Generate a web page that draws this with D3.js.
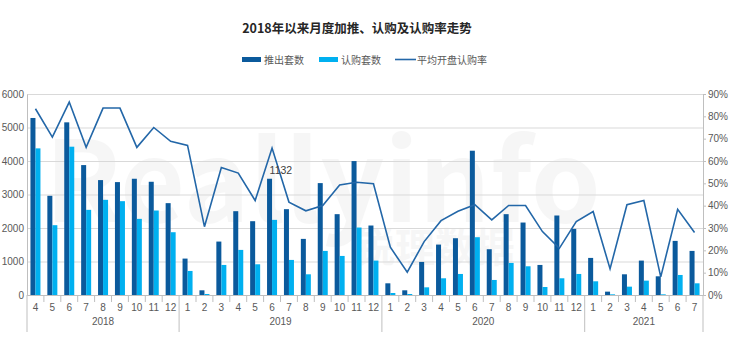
<html><head>
<meta charset="utf-8">
<script src="https://d3js.org/d3.v7.min.js"></script>
<style>
  body { margin: 0; background: #fff; }
  text { font-family: "Noto Sans CJK SC", "Open Sans", sans-serif; }
  .num { font-family: "Liberation Sans", Arial, sans-serif; }
  .grid line { stroke: #d9d9d9; }
  .grid .domain { stroke: none; }
</style>
</head>
<body>
<svg id="chart" width="740" height="351"></svg>
<script>
  // month labels, year groups
  const years = ["2018", "2019", "2020", "2021"];
  const yearMonths = [[4,5,6,7,8,9,10,11,12], [1,2,3,4,5,6,7,8,9,10,11,12], [1,2,3,4,5,6,7,8,9,10,11,12], [1,2,3,4,5,6,7]];
  // 推出套数
  const launched = [5284,2961,5154,3878,3430,3370,3470,3380,2742,
                    1087,140,1595,2502,2203,3470,2562,1675,3340,2413,3998,2074,
                    349,140,987,1505,1695,4307,1366,2413,2163,897,2373,1974,
                    1107,100,618,1027,558,1615,1316];
  // 认购套数
  const sold = [4377,2084,4427,2542,2841,2801,2273,2522,1874,
                718,30,897,1346,917,2243,1047,618,1316,1166,2014,1027,
                60,30,229,499,628,1725,449,957,857,239,499,628,
                409,20,249,429,20,598,349];
  // 平均开盘认购率 (%)
  const rate = [83.4,70.7,86.4,66.1,83.7,83.7,66.1,75.0,68.8,
                67.0,30.6,57.1,54.6,42.3,65.8,41.6,37.7,40.1,49.3,50.5,49.8,
                21.4,10.2,23.9,33.3,37.5,40.4,33.6,40.1,40.1,28.4,20.9,32.9,
                37.4,11.7,40.4,42.3,8.1,38.4,28.0];
  const leftTicks = [0,1000,2000,3000,4000,5000,6000];
  const rightTicks = [0,10,20,30,40,50,60,70,80,90];

  // build one row per month
  let data = [];
  years.forEach((y, yi) => {
    yearMonths[yi].forEach(m => {
      const i = data.length;
      data.push({key: y + "-" + m, year: y, month: m, launched: launched[i], sold: sold[i], rate: rate[i]});
    });
  });

  const svg = d3.select("svg#chart");
  const margins = {top: 94, right: 37, bottom: 56, left: 27};
  const width = 740, height = 351;
  const chartWidth = width - margins.left - margins.right;
  const chartHeight = height - margins.top - margins.bottom;

  const x = d3.scaleBand().domain(data.map(d => d.key)).range([margins.left, margins.left + chartWidth]);
  const sub = d3.scaleBand().domain(["launched", "sold"]).range([-5, 5]);
  const yLeft = d3.scaleLinear().domain([0, 6000]).range([margins.top + chartHeight, margins.top]);
  const yRight = d3.scaleLinear().domain([0, 90]).range([margins.top + chartHeight, margins.top]);

  // faint watermark
  svg.append("text")
    .attr("x", 45).attr("y", 222)
    .attr("font-size", 112).attr("font-weight", "bold")
    .attr("fill", "#000").attr("opacity", 0.03)
    .attr("font-family", "Open Sans, sans-serif")
    .text("Reallyinfo");
  svg.append("text")
    .attr("x", 355).attr("y", 262)
    .attr("font-size", 40).attr("font-weight", "bold")
    .attr("fill", "#000").attr("opacity", 0.03)
    .text("锐理数据");

  // gridlines
  svg.append("g").attr("class", "grid")
    .attr("transform", "translate(" + margins.left + ",0)")
    .call(d3.axisLeft(yLeft).tickValues(leftTicks).tickSize(-chartWidth).tickFormat(""));

  // bars
  const colors = {launched: "#0b5a9c", sold: "#00b0f0"};
  ["launched", "sold"].forEach(k => {
    svg.append("g").selectAll("rect").data(data).join("rect")
      .attr("x", d => x(d.key) + x.bandwidth() / 2 + sub(k))
      .attr("width", sub.bandwidth())
      .attr("y", d => yLeft(d[k]))
      .attr("height", d => yLeft(0) - yLeft(d[k]))
      .attr("fill", colors[k]);
  });

  // rate line
  const line = d3.line().x(d => x(d.key) + x.bandwidth() / 2).y(d => yRight(d.rate));
  svg.append("path").datum(data)
    .attr("d", line)
    .attr("fill", "none")
    .attr("stroke", "#2367a8")
    .attr("stroke-width", 1.6);

  // stray label in the original
  svg.append("text").attr("class", "num")
    .attr("x", x("2019-6") + 6).attr("y", 174)
    .attr("font-size", 10.5).attr("fill", "#404040")
    .text("1132");

  // left axis
  const left = svg.append("g").attr("transform", "translate(" + margins.left + ",0)")
    .call(d3.axisLeft(yLeft).tickValues(leftTicks).tickSize(0).tickPadding(3).tickFormat(d3.format("d")));
  left.select(".domain").attr("stroke", "#bfbfbf");
  left.selectAll("text").attr("class", "num").attr("font-size", 10).attr("fill", "#595959");

  // right axis
  const right = svg.append("g").attr("transform", "translate(" + (margins.left + chartWidth) + ",0)")
    .call(d3.axisRight(yRight).tickValues(rightTicks).tickSize(3).tickSizeOuter(0).tickPadding(2).tickFormat(d => d + "%"));
  right.select(".domain").attr("stroke", "#bfbfbf");
  right.selectAll("line").attr("stroke", "#bfbfbf");
  right.selectAll("text").attr("class", "num").attr("font-size", 10).attr("fill", "#595959");

  // bottom axis: month labels
  const base = yLeft(0);
  const bottom = svg.append("g").attr("transform", "translate(0," + base + ")")
    .call(d3.axisBottom(x).tickSize(0).tickPadding(9).tickFormat(k => k.split("-")[1]));
  bottom.select(".domain").attr("stroke", "#bfbfbf");
  bottom.selectAll("text").attr("class", "num").attr("font-size", 10).attr("fill", "#595959");

  // separators between months and years
  data.forEach((d, i) => {
    const xe = x(d.key);
    const yearStart = i == 0 || data[i - 1].year != d.year;
    svg.append("line")
      .attr("x1", xe).attr("x2", xe)
      .attr("y1", base).attr("y2", yearStart ? base + 37 : base + 7)
      .attr("stroke", "#bfbfbf");
  });
  const lastX = x(data[data.length - 1].key) + x.bandwidth();
  svg.append("line").attr("x1", lastX).attr("x2", lastX)
    .attr("y1", base).attr("y2", base + 37).attr("stroke", "#bfbfbf");

  // year labels
  years.forEach(y => {
    const ms = data.filter(d => d.year == y);
    const cx = (x(ms[0].key) + x(ms[ms.length - 1].key) + x.bandwidth()) / 2;
    svg.append("text").attr("class", "num")
      .attr("x", cx).attr("y", base + 30)
      .attr("text-anchor", "middle")
      .attr("font-size", 10).attr("fill", "#595959")
      .text(y);
  });

  // title
  svg.append("text")
    .attr("x", 357).attr("y", 33)
    .attr("text-anchor", "middle")
    .attr("font-size", 12.5).attr("font-weight", "bold").attr("fill", "#262626")
    .text("2018年以来月度加推、认购及认购率走势");

  // legend
  const legend = [
    {name: "推出套数", kind: "rect", color: "#0b5a9c", x: 242},
    {name: "认购套数", kind: "rect", color: "#00b0f0", x: 319},
    {name: "平均开盘认购率", kind: "line", color: "#2367a8", x: 395}
  ];
  legend.forEach(l => {
    if (l.kind == "rect") {
      svg.append("rect").attr("x", l.x).attr("y", 57).attr("width", 19).attr("height", 5).attr("fill", l.color);
    } else {
      svg.append("line").attr("x1", l.x).attr("x2", l.x + 21).attr("y1", 59.5).attr("y2", 59.5)
        .attr("stroke", l.color).attr("stroke-width", 1.6);
    }
    svg.append("text").attr("x", l.x + 22).attr("y", 63.5)
      .attr("font-size", 10).attr("fill", "#595959").text(l.name);
  });
</script>
</body>
</html>
